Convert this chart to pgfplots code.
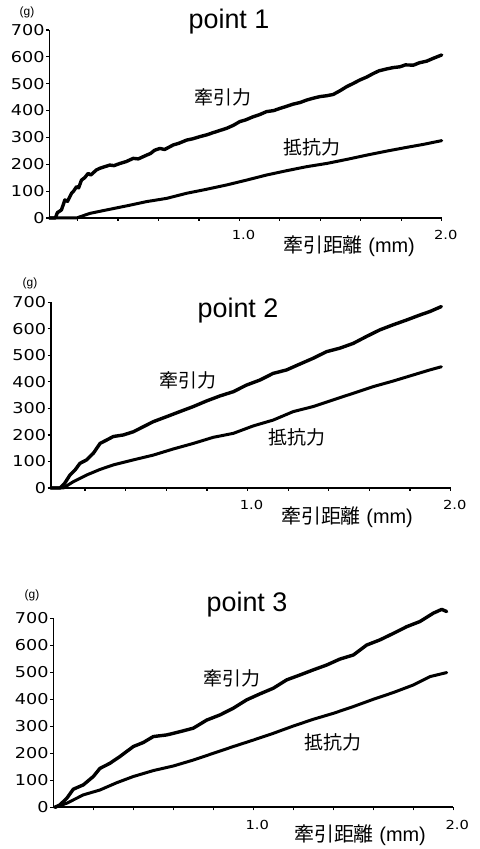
\documentclass[border=0pt]{standalone}
\usepackage{fontspec}
\setmainfont{Liberation Sans}
\newfontfamily\cjk{Noto Sans CJK JP}
\newfontfamily\tickfont[FakeStretch=1.18]{DejaVu Sans}
\usepackage{pgfplots}
\pgfplotsset{compat=1.18}
\pgfplotsset{panel/.style={
  scale only axis, clip=false,
  axis x line*=bottom, axis y line*=left,
  ymin=0, ymax=700, xmax=2.0,
  ytick={0,100,...,700},
  xtick={0.2,0.4,0.6,0.8,1.0,1.2,1.4,1.6,1.8,2.0},
  xticklabels={,,,,1.0,,,,,2.0},
  tick align=outside, major tick length=3bp,
  axis line style={line width=1.6bp, -},
  every tick/.style={line width=1.2bp, black},
  /pgf/number format/assume math mode=true,
  yticklabel style={font=\tickfont\fontsize{15}{15}\selectfont, inner sep=1.5bp},
  xticklabel style={font=\tickfont\fontsize{12.5}{12.5}\selectfont, xshift=4bp, yshift=-6bp},
  cycle list={{black, no markers}},
  every axis plot/.append style={line width=3.4bp, line join=round, line cap=round},
}}
\begin{document}
\begin{tikzpicture}[x=1bp,y=1bp]
\useasboundingbox (0,0) rectangle (480,849);
% ---------- point 1 ----------
\begin{axis}[panel, at={(49.3bp,631bp)}, anchor=south west,
  width=392.4bp, height=188bp, xmin=0.06]
\addplot[black, no markers] table {
0.06 0
0.09 0
0.10 20
0.12 30
0.137 67
0.15 62
0.17 92
0.18 100
0.195 117
0.205 112
0.219 141
0.235 150
0.252 166
0.265 160
0.293 179
0.31 185
0.33 190
0.359 197
0.38 195
0.409 203
0.44 210
0.475 222
0.50 220
0.541 234
0.56 240
0.58 252
0.607 259
0.63 255
0.673 272
0.70 278
0.739 290
0.77 295
0.805 303
0.84 310
0.871 318
0.90 325
0.937 334
0.97 345
1.002 359
1.03 365
1.068 377
1.10 385
1.134 396
1.17 400
1.200 408
1.23 415
1.266 424
1.30 430
1.332 439
1.36 445
1.398 452
1.43 455
1.464 460
1.50 475
1.530 489
1.56 500
1.596 514
1.63 525
1.662 538
1.69 548
1.728 555
1.76 560
1.794 563
1.82 570
1.860 569
1.89 578
1.926 584
1.96 595
2.0 607
};
\addplot[black, no markers, line width=3bp] table {
0.06 0
0.195 0
0.26 17
0.343 30
0.442 45
0.541 61
0.640 73
0.739 92
0.838 107
0.937 123
1.035 141
1.134 160
1.233 176
1.332 191
1.431 203
1.530 218
1.629 234
1.728 249
1.827 263
1.909 274
2.0 288
};
\end{axis}
% ---------- point 2 ----------
\begin{axis}[panel, at={(50.7bp,361bp)}, anchor=south west,
  width=400bp, height=185.7bp, xmin=0.031]
\addplot[black, no markers] table {
0.031 0
0.077 0
0.10 18
0.126 49
0.151 68
0.175 93
0.208 106
0.241 131
0.274 168
0.307 181
0.339 194
0.389 200
0.438 212
0.487 231
0.536 250
0.602 269
0.667 288
0.733 307
0.798 328
0.864 347
0.93 363
0.995 388
1.061 407
1.126 432
1.192 445
1.257 467
1.323 489
1.389 514
1.454 527
1.52 545
1.585 571
1.651 596
1.716 615
1.782 633
1.848 652
1.897 665
1.954 684
};
\addplot[black, no markers, line width=3bp] table {
0.031 0
0.093 0
0.143 24
0.208 49
0.274 70
0.339 87
0.438 106
0.536 124
0.634 147
0.733 168
0.831 191
0.93 206
1.028 234
1.126 256
1.225 288
1.323 307
1.421 332
1.52 357
1.618 382
1.716 403
1.815 426
1.897 445
1.954 457
};
\end{axis}
% ---------- point 3 ----------
\begin{axis}[panel, at={(53.3bp,41.7bp)}, anchor=south west,
  width=400bp, height=189bp, xmin=0]
\addplot[black, no markers] table {
0.008 0
0.033 9
0.067 33
0.10 67
0.15 83
0.20 114
0.233 144
0.283 163
0.333 188
0.40 225
0.45 240
0.50 262
0.567 268
0.633 280
0.70 293
0.767 323
0.833 342
0.90 367
0.967 398
1.033 420
1.10 441
1.167 472
1.233 490
1.30 509
1.367 527
1.433 549
1.50 564
1.567 601
1.633 620
1.70 644
1.767 669
1.833 688
1.90 719
1.942 733
1.967 725
};
\addplot[black, no markers, line width=3bp] table {
0.008 0
0.067 15
0.15 46
0.233 64
0.317 91
0.40 114
0.50 136
0.60 153
0.70 175
0.80 200
0.90 225
1.00 249
1.10 274
1.20 301
1.30 326
1.40 348
1.50 373
1.60 400
1.70 425
1.80 453
1.883 484
1.967 499
};
\end{axis}
% ---------- texts ----------
\tikzset{g/.style={font=\fontsize{12}{12}\selectfont},
  ttl/.style={font=\fontsize{27}{27}\selectfont, anchor=base},
  jp/.style={font=\cjk\fontsize{19}{19}\selectfont},
  xl/.style={font=\fontsize{20}{20}\selectfont}}
\node[g] at (27,837) {(g)};
\node[ttl] at (229,820) {point 1};
\node[jp] at (223,752) {牽引力};
\node[jp] at (312,702) {抵抗力};
\node[xl] at (349,603) {{\cjk 牽引距離} (mm)};

\node[g] at (30,566) {(g)};
\node[ttl] at (238,531) {point 2};
\node[jp] at (188,469) {牽引力};
\node[jp] at (297,412) {抵抗力};
\node[xl] at (347,332) {{\cjk 牽引距離} (mm)};

\node[g] at (32,254) {(g)};
\node[ttl] at (247,237) {point 3};
\node[jp] at (232,171) {牽引力};
\node[jp] at (333,107) {抵抗力};
\node[xl] at (360,14) {{\cjk 牽引距離} (mm)};
\end{tikzpicture}
\end{document}
